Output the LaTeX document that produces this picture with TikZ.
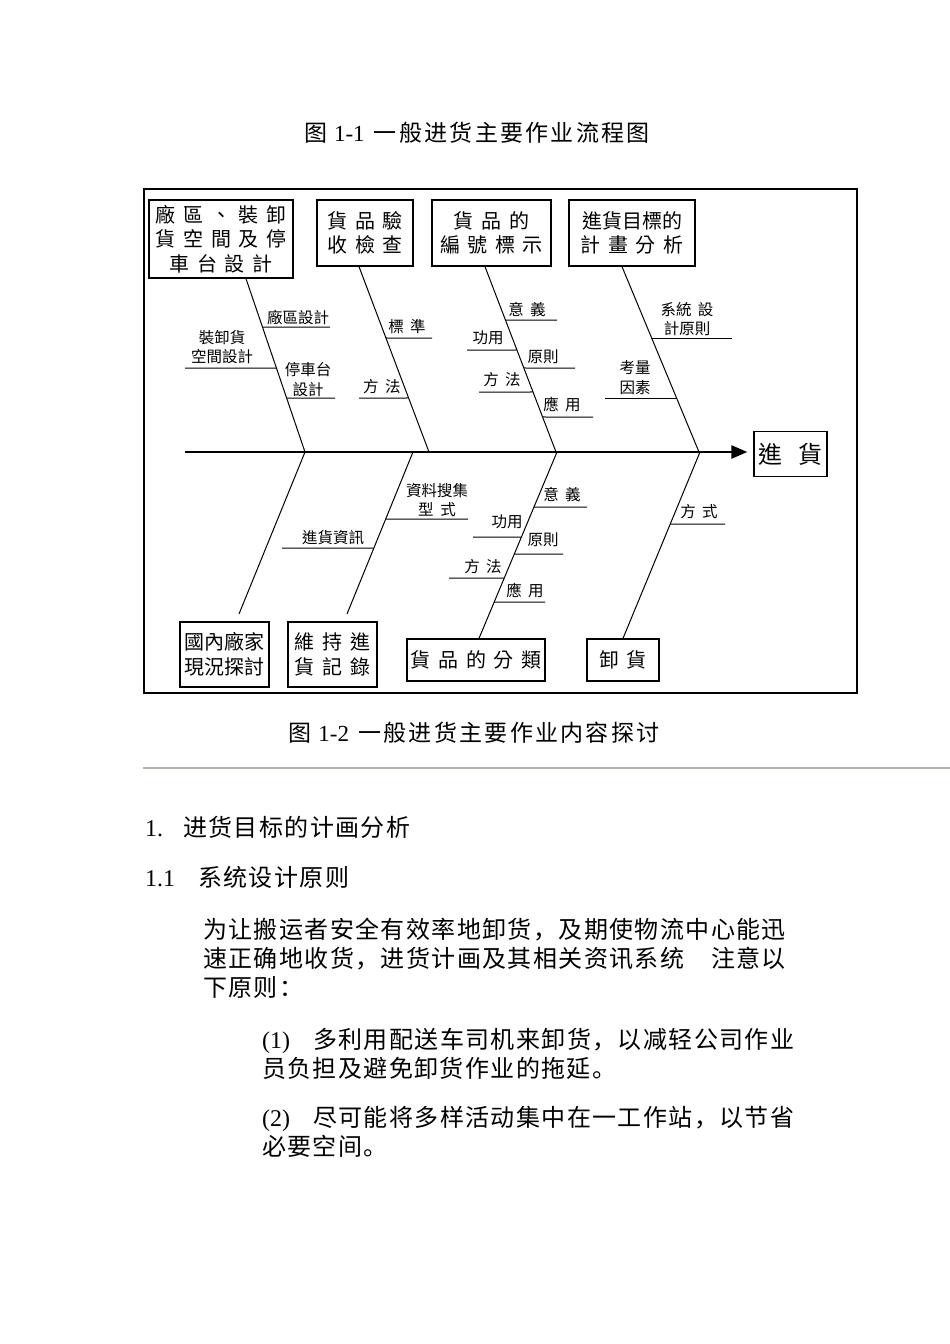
\documentclass[tikz,border=0pt]{standalone}
\usepackage{fontspec}
\setmainfont{Liberation Serif}
\newfontfamily\tcfont{Noto Sans CJK TC}
\newfontfamily\scfont[LetterSpace=5.8]{Noto Sans CJK SC}
\newfontfamily\capfont[LetterSpace=10]{Noto Sans CJK SC}
\usetikzlibrary{arrows.meta}
\definecolor{rulegray}{RGB}{180,178,170}
\newcommand\catfont{\tcfont\fontsize{20}{24.5}\selectfont\spaceskip0.38em\relax}
\newcommand\labfont{\tcfont\fontsize{15.5}{19.5}\selectfont\spaceskip0.42em\relax}
\tikzset{
  bone/.style={line width=1pt},
  spine/.style={line width=2.4pt,-{Triangle[length=16pt,width=13pt]}},
  catbox/.style={draw,line width=1.3pt,inner sep=0pt,align=center,font=\catfont},
  sublab/.style={inner sep=0pt,align=center,font=\labfont},
  pagetext/.style={inner sep=0pt,align=left,font=\scfont\fontsize{24}{29}\selectfont},
  captext/.style={inner sep=0pt,font=\capfont\fontsize{23}{27}\selectfont},
}

\begin{document}
\begin{tikzpicture}[x=1pt,y=-1pt]
\fill[white] (0,0) rectangle (950,1344); % page
\useasboundingbox (0,0) rectangle (950,1344);

\node[captext] (title) at (477,133) {图\hspace{0.2em}\textrm{1-1}\hspace{0.4em}一般进货主要作业流程图}; % upper caption

\draw[line width=1.2pt] (144,189) rectangle (857,693); % frame

% boxes of the fishbone
\node[catbox,minimum width=144pt,minimum height=78pt] (plan) at (221,239) {廠 區 、 裝 卸\\貨 空 間 及 停\\車 台 設 計};
\node[catbox,minimum width=96pt,minimum height=66pt] (check) at (365,233) {貨 品 驗\\收 檢 查};
\node[catbox,minimum width=119pt,minimum height=66pt] (code) at (491.5,233) {貨 品 的\\編 號 標 示};
\node[catbox,minimum width=126pt,minimum height=66pt] (goalplan) at (632,233) {進貨目標的\\計 畫 分 析};
\node[catbox,minimum width=89pt,minimum height=65pt] (survey) at (224.5,654.5) {國內廠家\\現況探討};
\node[catbox,minimum width=89pt,minimum height=65pt] (record) at (332.5,654.5) {維 持 進\\貨 記 錄};
\node[catbox,minimum width=138pt,minimum height=42pt] (sort) at (476,660) {貨 品 的 分 類};
\node[catbox,minimum width=72pt,minimum height=42pt] (unload) at (623,660) {卸 貨};
\node[catbox,minimum width=73pt,minimum height=45pt,font=\tcfont\fontsize{24}{28}\selectfont] (goal) at (790.5,454) {進\hspace{0.7em}貨};

% spine
\coordinate (tail) at (185,452);
\draw[spine] (tail) -- ([xshift=-6pt]goal.west |- tail); % main ligne

% points on the spine
\coordinate (j1) at (305,452);
\coordinate (j2) at (429,452);
\coordinate (j3) at (556,452);
\coordinate (j4) at (699,452);
\coordinate (k2) at (413,452);
\coordinate (k3) at (557,452);
\coordinate (k4) at (700,452);
\coordinate (s1) at ([xshift=25pt]plan.south);
\coordinate (s2) at ([xshift=-6pt]check.south);
\coordinate (s3) at ([xshift=-6.5pt]code.south);
\coordinate (s4) at ([xshift=-10pt]goalplan.south);
\coordinate (e1) at (239,614);
\coordinate (e2) at (347,614);
\coordinate (e3) at ([xshift=3pt]sort.north);

% bones
\draw[bone] (s1) -- (j1);
\draw[bone] (s2) -- (j2);
\draw[bone] (s3) -- (j3);
\draw[bone] (s4) -- (j4);
\draw[bone] (j1) -- (e1);
\draw[bone] (k2) -- (e2);
\draw[bone] (k3) -- (e3);
\draw[bone] (k4) -- (unload.north);

% small bones, upper side
\draw[bone] (intersection of s1--j1 and 0,327--1,327) -- (330,327);
\node[sublab] (t11) at (298,317) {廠區設計};
\draw[bone] (intersection of s1--j1 and 0,368--1,368) -- (185,368);
\node[sublab] (t12) at (222,347) {裝卸貨\\空間設計};
\draw[bone] (intersection of s1--j1 and 0,398--1,398) -- (335,398);
\node[sublab] (t13) at (308,379.5) {停車台\\設計};
\draw[bone] (intersection of s2--j2 and 0,338--1,338) -- (432,338);
\node[sublab] (t21) at (407,327) {標 準};
\draw[bone] (intersection of s2--j2 and 0,398--1,398) -- (359,398);
\node[sublab] (t22) at (382,387) {方 法};
\draw[bone] (intersection of s3--j3 and 0,320--1,320) -- (557,320);
\node[sublab] (t31) at (527,310) {意 義};
\draw[bone] (intersection of s3--j3 and 0,350--1,350) -- (467,350);
\node[sublab] (t32) at (488,338) {功用};
\draw[bone] (intersection of s3--j3 and 0,368--1,368) -- (575,368);
\node[sublab] (t33) at (543,357) {原則};
\draw[bone] (intersection of s3--j3 and 0,392--1,392) -- (479,392);
\node[sublab] (t34) at (502,380) {方 法};
\draw[bone] (intersection of s3--j3 and 0,417--1,417) -- (593,417);
\node[sublab] (t35) at (562,404) {應 用};
\draw[bone] (intersection of s4--j4 and 0,338--1,338) -- (732,338);
\node[sublab] (t41) at (687,319) {系統 設\\計原則};
\draw[bone] (intersection of s4--j4 and 0,398--1,398) -- (605,398);
\node[sublab] (t42) at (635,377.5) {考量\\因素};

% small bones, lower side
\draw[bone] (intersection of k2--e2 and 0,519--1,519) -- (468,519);
\node[sublab] (b21) at (437,500) {資料搜集\\型 式};
\draw[bone] (intersection of k2--e2 and 0,548--1,548) -- (282,548);
\node[sublab] (b22) at (333,538) {進貨資訊};
\draw[bone] (intersection of k3--e3 and 0,507--1,507) -- (587,507);
\node[sublab] (b31) at (562,495) {意 義};
\draw[bone] (intersection of k3--e3 and 0,537--1,537) -- (473,537);
\node[sublab] (b32) at (507,522) {功用};
\draw[bone] (intersection of k3--e3 and 0,554--1,554) -- (563,554);
\node[sublab] (b33) at (543,540) {原則};
\draw[bone] (intersection of k3--e3 and 0,578--1,578) -- (449,578);
\node[sublab] (b34) at (483,567) {方 法};
\draw[bone] (intersection of k3--e3 and 0,602--1,602) -- (545,602);
\node[sublab] (b35) at (525,590) {應 用};
\draw[bone] (intersection of k4--unload.north and 0,524--1,524) -- (725,524);
\node[sublab] (b41) at (699,512) {方 式};

\node[captext] (caption) at (474,733) {图\hspace{0.2em}\textrm{1-2}\hspace{0.4em}一般进货主要作业内容探讨}; % lower caption
\draw[rulegray,line width=2pt] (143,768) -- (950,768); % grey rule

% text of the page
\node[pagetext,anchor=west] (head) at (145,827) {\textrm{1.}\hspace{20pt}进货目标的计画分析};
\node[pagetext,anchor=west] (subhead) at (145,877) {\textrm{1.1}\hspace{23pt}系统设计原则};
\node[pagetext,anchor=west] (para) at (203,958) {为让搬运者安全有效率地卸货，及期使物流中心能迅\\速正确地收货，进货计画及其相关资讯系统　注意以\\下原则：};
\node[pagetext,anchor=west] (item1) at (262,1054) {\textrm{(1)}\hspace{23pt}多利用配送车司机来卸货，以减轻公司作业\\员负担及避免卸货作业的拖延。};
\node[pagetext,anchor=west] (item2) at (262,1131.5) {\textrm{(2)}\hspace{23pt}尽可能将多样活动集中在一工作站，以节省\\必要空间。};
\end{tikzpicture}
\end{document}
